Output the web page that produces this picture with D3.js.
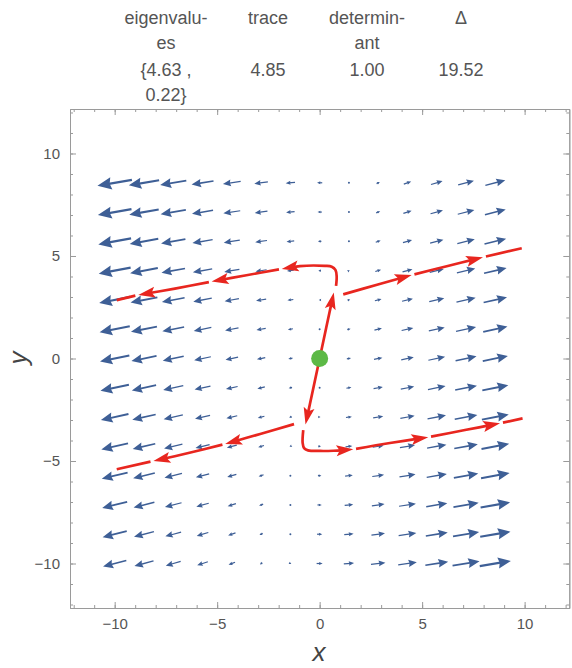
<!DOCTYPE html>
<html>
<head>
<meta charset="utf-8">
<script src="https://cdn.jsdelivr.net/npm/d3@7"></script>
<style>
  html, body { margin: 0; padding: 0; background: #fff; }
  svg { display: block; font-family: "Liberation Sans", Arial, sans-serif; }
</style>
</head>
<body>
<svg id="chart" width="572" height="668"></svg>
<script>
// Linear system  x' = a x + b y,  y' = c x + d y
const matA = 4.85, matB = -1, matC = 1, matD = 0;

// Summary table shown above the phase portrait
const tableHeaders = [["eigenvalu-", "es"], ["trace"], ["determin-", "ant"], ["\u0394"]];
const tableValues = [["{4.63 ,", "0.22}"], ["4.85"], ["1.00"], ["19.52"]];

// Sample points of the direction field
const gridX = [-10, -8.571, -7.143, -5.714, -4.286, -2.857, -1.429, 0, 1.429, 2.857, 4.286, 5.714, 7.143, 8.571];
const gridY = [-10, -8.571, -7.143, -5.714, -4.286, -2.857, -1.429, 0, 1.429, 2.857, 4.286, 5.714, 7.143, 8.571];

// Axis ticks
const majorTicks = [-10, -5, 0, 5, 10];
const minorTicks = d3.range(-12, 13);

// Equilibrium point
const equilibrium = [0, 0];

// Solution curves; each has a list of arrowhead positions (point indices)
const orbitUp = [[0, 0], [0.32, 1.5], [0.69, 3.22]];
const orbitUpArrows = [2];
const orbitDown = [[0, 0], [-0.32, -1.5], [-0.69, -3.22]];
const orbitDownArrows = [2];
const orbitRight = [[1.15, 3.13], [2.8, 3.6], [4.49, 4.07], [6.2, 4.5], [7.97, 4.94], [9.86, 5.38]];
const orbitRightArrows = [2, 4];
const orbitLeft = [[-1.25, -3.2], [-2.9, -3.68], [-4.61, -4.17], [-6.35, -4.6], [-8.11, -5.0], [-9.9, -5.4]];
const orbitLeftArrows = [2, 4];
const orbitHookUp = [[0.8, 3.54], [0.83, 4.02], [0.77, 4.32], [0.59, 4.48], [0.26, 4.52], [-0.96, 4.51],
  [-1.85, 4.37], [-3.64, 4.05], [-5.27, 3.75], [-7.06, 3.41], [-8.85, 3.1], [-9.9, 2.85]];
const orbitHookUpArrows = [6, 8, 10];
const orbitHookDown = [[-0.8, -3.49], [-0.83, -4.12], [-0.76, -4.37], [-0.57, -4.48], [0.02, -4.51], [0.67, -4.5],
  [1.64, -4.43], [3.43, -4.12], [5.3, -3.84], [7.09, -3.49], [8.8, -3.16], [9.9, -2.92]];
const orbitHookDownArrows = [6, 8, 10];

const orbits = [
  [orbitUp, orbitUpArrows], [orbitDown, orbitDownArrows],
  [orbitRight, orbitRightArrows], [orbitLeft, orbitLeftArrows],
  [orbitHookUp, orbitHookUpArrows], [orbitHookDown, orbitHookDownArrows]
];

const svg = d3.select("#chart");
const frame = { left: 70, right: 569.3, top: 109, bottom: 608 };
const x = d3.scaleLinear().domain([-12.18, 12.18]).range([frame.left, frame.right]);
const y = d3.scaleLinear().domain([-12.17, 12.17]).range([frame.bottom, frame.top]);

const textColor = "#555";
const axisColor = "#9a9a9a";

// ---- table ----
const colCenters = [166, 268, 367, 461];
const tbl = svg.append("g").attr("font-size", 18).attr("fill", textColor).attr("text-anchor", "middle");
tableHeaders.forEach((lines, i) => {
  lines.forEach((t, j) => tbl.append("text").attr("x", colCenters[i]).attr("y", 24 + j * 25).text(t));
});
tableValues.forEach((lines, i) => {
  lines.forEach((t, j) => tbl.append("text").attr("x", colCenters[i]).attr("y", 76 + j * 25).text(t));
});

// ---- frame with ticks ----
const fmt = v => (v < 0 ? "\u2212" + Math.abs(v) : String(v));
function frameAxis(axisFn, scale, transform, size, values, labels) {
  const ax = axisFn(scale).tickValues(values).tickSizeInner(-size).tickSizeOuter(0)
    .tickPadding(labels ? 10 : 0).tickFormat(labels ? fmt : () => "");
  const g = svg.append("g").attr("transform", transform).call(ax);
  g.select(".domain").attr("stroke", axisColor);
  g.selectAll(".tick line").attr("stroke", axisColor);
  g.selectAll(".tick text").attr("fill", textColor).attr("font-size", 15)
    .attr("font-family", "Liberation Sans, Arial, sans-serif");
  return g;
}
frameAxis(d3.axisBottom, x, `translate(0,${frame.bottom})`, 3, minorTicks, false);
frameAxis(d3.axisTop, x, `translate(0,${frame.top})`, 3, minorTicks, false);
frameAxis(d3.axisLeft, y, `translate(${frame.left},0)`, 3, minorTicks, false);
frameAxis(d3.axisRight, y, `translate(${frame.right},0)`, 3, minorTicks, false);
frameAxis(d3.axisBottom, x, `translate(0,${frame.bottom})`, 6, majorTicks, true);
frameAxis(d3.axisTop, x, `translate(0,${frame.top})`, 6, majorTicks, false);
frameAxis(d3.axisLeft, y, `translate(${frame.left},0)`, 6, majorTicks, true);
frameAxis(d3.axisRight, y, `translate(${frame.right},0)`, 6, majorTicks, false);

// axis titles
svg.append("text").attr("x", 319).attr("y", 661).attr("text-anchor", "middle")
  .attr("font-size", 26).attr("font-style", "italic").attr("fill", "#444").text("x");
svg.append("text").attr("transform", "translate(27,358) rotate(-90)").attr("text-anchor", "middle")
  .attr("font-size", 26).attr("font-style", "italic").attr("fill", "#444").text("y");

// ---- direction field ----
const field = [];
gridY.forEach(gy => gridX.forEach(gx => {
  field.push({ gx, gy, vx: matA * gx + matB * gy, vy: matC * gx + matD * gy });
}));
const maxMag = d3.max(field, d => Math.hypot(d.vx, d.vy));
const lenScale = d3.scaleLinear().domain([0, maxMag]).range([0, 35]);

const blue = "#3e5f96";
const fieldG = svg.append("g").attr("fill", blue).attr("stroke", blue);
field.forEach(d => {
  const len = lenScale(Math.hypot(d.vx, d.vy));
  const cx = x(d.gx), cy = y(d.gy);
  if (len < 1.6) {
    fieldG.append("circle").attr("cx", cx).attr("cy", cy).attr("r", 1).attr("stroke", "none");
    return;
  }
  const ang = Math.atan2(-d.vy, d.vx) * 180 / Math.PI;
  const hl = Math.max(2.4, 1.5 + len * 0.36), hw = Math.max(1.3, 0.6 + len * 0.16);
  const a = fieldG.append("g").attr("transform", `translate(${cx},${cy}) rotate(${ang})`);
  a.append("line").attr("x1", -len / 2).attr("x2", len / 2 - hl * 0.6).attr("y1", 0).attr("y2", 0)
    .attr("stroke-width", Math.min(2.3, Math.max(1.2, len * 0.07)));
  a.append("path").attr("stroke", "none")
    .attr("d", `M${len / 2},0 L${len / 2 - hl},${-hw} L${len / 2 - hl * 0.88},0 L${len / 2 - hl},${hw} Z`);
});

// ---- solution curves ----
const red = "#e8261f";
const line = d3.line().x(p => x(p[0])).y(p => y(p[1])).curve(d3.curveCatmullRom.alpha(0.5));
const orbitG = svg.append("g");
const headL = 17, headW = 5.5;
orbits.forEach(([pts, arrows]) => {
  const cuts = [0, ...arrows];
  if (arrows[arrows.length - 1] !== pts.length - 1) cuts.push(pts.length - 1);
  for (let k = 0; k < cuts.length - 1; k++) {
    const seg = pts.slice(cuts[k], cuts[k + 1] + 1);
    const path = orbitG.append("path").attr("d", line(seg)).attr("fill", "none")
      .attr("stroke", red).attr("stroke-width", 2.7);
    const node = path.node();
    const total = node.getTotalLength();
    const gap = k > 0 ? 3 : 0;
    const endsWithHead = arrows.includes(cuts[k + 1]);
    const trimEnd = endsWithHead ? headL * 0.6 : 0;
    path.attr("stroke-dasharray", `0 ${gap} ${Math.max(0, total - gap - trimEnd)} ${total + 20}`);
    if (endsWithHead) {
      const tip = node.getPointAtLength(total);
      const back = node.getPointAtLength(Math.max(0, total - 6));
      const ang = Math.atan2(tip.y - back.y, tip.x - back.x) * 180 / Math.PI;
      orbitG.append("path").attr("fill", red)
        .attr("transform", `translate(${tip.x},${tip.y}) rotate(${ang})`)
        .attr("d", `M0,0 L${-headL},${-headW} L${-headL * 0.8},0 L${-headL},${headW} Z`);
    }
  }
});

// equilibrium
svg.append("circle").attr("cx", x(equilibrium[0])).attr("cy", y(equilibrium[1]))
  .attr("r", 8.5).attr("fill", "#5cb946");
</script>
</body>
</html>
